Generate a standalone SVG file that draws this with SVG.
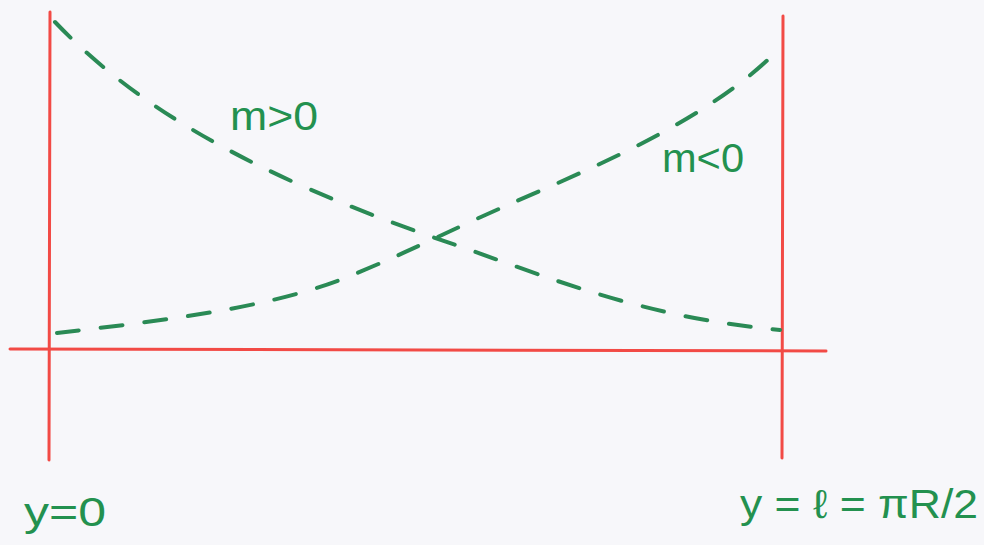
<svg xmlns="http://www.w3.org/2000/svg" width="984" height="545" viewBox="0 0 984 545">
<style>
.axis{stroke:#f24a45;stroke-width:3;fill:none;stroke-linecap:round}
.curve{stroke:#2a8a55;stroke-width:4;fill:none;stroke-dasharray:22 22;stroke-linecap:round}
.lbl{font-family:"Liberation Sans",Arial,sans-serif;fill:#23914f;font-size:40px}
</style>
<rect width="984" height="545" fill="#f7f7fa"/>
<g id="axes">
<path class="axis" d="M50 12 L49 460"/>
<path class="axis" d="M783 16 L782 458"/>
<path class="axis" d="M10 349 L826 351"/>
</g>
<g id="connectors">
<path class="curve" d="M55 22 C120 90 200 140 300 185 C380 220 430 236 470 250 C560 282 650 318 780 330"/>
<path class="curve" d="M57 333 C150 322 260 310 340 280 C390 260 420 245 470 222 C560 180 700 130 780 48"/>
</g>
<g id="labels">
<text class="lbl" x="230" y="130" textLength="88" lengthAdjust="spacingAndGlyphs">m&gt;0</text>
<text class="lbl" x="662" y="172" textLength="82" lengthAdjust="spacingAndGlyphs">m&lt;0</text>
<text class="lbl" x="24" y="526" font-size="46" textLength="82" lengthAdjust="spacingAndGlyphs">y=0</text>
<text class="lbl" x="740" y="518" font-size="46" textLength="238" lengthAdjust="spacingAndGlyphs">y = ℓ = πR/2</text>
</g>
</svg>
